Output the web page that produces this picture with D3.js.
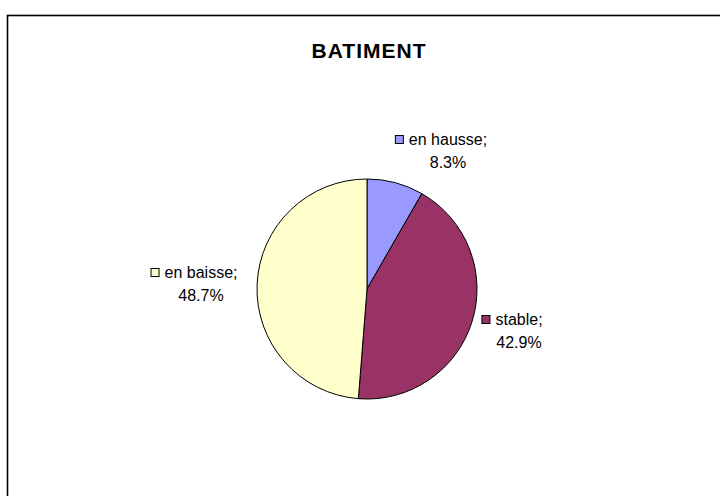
<!DOCTYPE html>
<html><head><meta charset="utf-8">
<script src="https://cdn.jsdelivr.net/npm/d3@7/dist/d3.min.js"></script>
<style>body{margin:0;background:#fff}svg{display:block}</style>
</head><body>
<svg id="c" width="720" height="496"></svg>
<script>
const categories = ["en hausse", "stable", "en baisse"];
const values = [8.3, 42.9, 48.7];
const labels = ["8.3%", "42.9%", "48.7%"];
const colors = ["#9999FF", "#993366", "#FFFFCC"];
const title = "BATIMENT";

const svg = d3.select("#c");
const font = "'Liberation Sans', Arial, sans-serif";
svg.append("rect").attr("x", 7.5).attr("y", 15.5).attr("width", 760).attr("height", 520)
  .attr("fill", "#fff").attr("stroke", "#000").attr("stroke-width", 1.6);
svg.append("text").attr("x", 369).attr("y", 58).attr("text-anchor", "middle")
  .attr("font-family", font).attr("font-weight", "bold").attr("font-size", 21)
  .attr("letter-spacing", 1).text(title);

const cx = 367, cy = 289, r = 110;
const data = categories.map((c, i) => ({c, v: values[i], l: labels[i], col: colors[i]}));
const pie = d3.pie().value(d => d.v).sort(null);
const arc = d3.arc().innerRadius(0).outerRadius(r);
const g = svg.append("g").attr("transform", `translate(${cx},${cy})`);
const arcs = pie(data);
g.selectAll("path").data(arcs).join("path").attr("d", arc)
  .attr("fill", d => d.data.col).attr("stroke", "#000").attr("stroke-width", 1);

// label block centre x / first baseline (relative to pie centre)
const labelPos = [[81, -144], [152, 36], [-166, -11]];
const fs = 16;
arcs.forEach((a, i) => {
  const [lx, ly] = labelPos[i];
  const lg = g.append("g").attr("transform", `translate(${lx},${ly})`);
  const t1 = lg.append("text").attr("x", 0).attr("y", 0).attr("font-family", font)
    .attr("font-size", fs).attr("text-anchor", "middle").text(a.data.c + ";");
  const w = t1.node().getComputedTextLength();
  lg.append("rect").attr("x", -w / 2 - 13.5).attr("y", -9.5).attr("width", 8).attr("height", 8)
    .attr("fill", a.data.col).attr("stroke", "#000").attr("stroke-width", 1);
  lg.append("text").attr("x", 0).attr("y", 23).attr("font-family", font)
    .attr("font-size", fs).attr("text-anchor", "middle").text(a.data.l);
});
</script>
</body></html>
